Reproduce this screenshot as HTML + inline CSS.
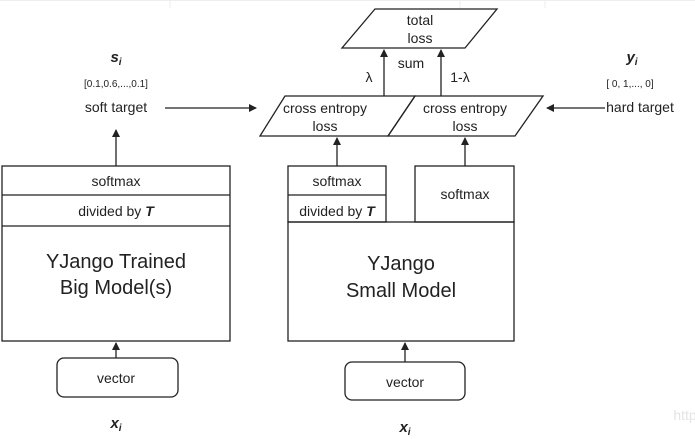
<!DOCTYPE html>
<html><head><style>body{margin:0;background:#fff}svg{display:block}</style></head><body>
<svg width="695" height="439" viewBox="0 0 695 439" xmlns="http://www.w3.org/2000/svg" font-family="Liberation Sans, sans-serif" fill="none" stroke="#222" stroke-width="1.3">
<defs><marker id="a" markerWidth="8" markerHeight="8" refX="7" refY="4" orient="auto" markerUnits="userSpaceOnUse"><path d="M0,0L8,4L0,8z" fill="#222" stroke="none"/></marker></defs>
<g stroke="#eee" stroke-width="1"><line x1="170" y1="0" x2="170" y2="8"/><line x1="460" y1="0" x2="460" y2="8"/><line x1="545" y1="0" x2="545" y2="8"/><line x1="0" y1="0.5" x2="695" y2="0.5"/></g>
<!-- left big model -->
<rect x="2" y="166" width="228" height="175"/>
<line x1="2" y1="195" x2="230" y2="195"/><line x1="2" y1="226" x2="230" y2="226"/>
<line x1="116" y1="166" x2="116" y2="130" marker-end="url(#a)"/>
<rect x="57" y="358" width="121" height="39" rx="7"/>
<line x1="116" y1="358" x2="116" y2="343" marker-end="url(#a)"/>
<!-- right small model -->
<rect x="288" y="222" width="226" height="119"/>
<rect x="288" y="166" width="98" height="56"/><line x1="288" y1="195" x2="386" y2="195"/>
<rect x="415" y="166" width="99" height="56"/>
<rect x="345" y="362" width="120" height="38" rx="7"/>
<line x1="405" y1="362" x2="405" y2="343" marker-end="url(#a)"/>
<line x1="337" y1="166" x2="337" y2="138" marker-end="url(#a)"/>
<line x1="465" y1="166" x2="465" y2="138" marker-end="url(#a)"/>
<!-- CE parallelograms -->
<path d="M285,96L415,96L388,136L260,136Z"/>
<path d="M415,96L543,96L515,136L388,136Z"/>
<path d="M375,9L497,9L465,48L342,48Z"/>
<line x1="384" y1="96" x2="384" y2="50" marker-end="url(#a)"/>
<line x1="441" y1="96" x2="441" y2="50" marker-end="url(#a)"/>
<line x1="165" y1="108" x2="256" y2="108" marker-end="url(#a)"/>
<line x1="605" y1="108" x2="547" y2="108" marker-end="url(#a)"/>
<g fill="#222" stroke="none" text-anchor="middle" font-size="14">
<text x="116" y="186">softmax</text>
<text x="116" y="216">divided by <tspan font-weight="bold" font-style="italic">T</tspan></text>
<text x="116" y="268" font-size="20">YJango Trained</text>
<text x="116" y="294" font-size="20">Big Model(s)</text>
<text x="116" y="383">vector</text>
<text x="116" y="428" font-size="15" font-weight="bold" font-style="italic">x<tspan font-size="10" dy="3">i</tspan></text>
<text x="116" y="62" font-size="15" font-weight="bold" font-style="italic">s<tspan font-size="10" dy="3">i</tspan></text>
<text x="116" y="87" font-size="10">[0.1,0.6,...,0.1]</text>
<text x="116" y="112">soft target</text>
<text x="337" y="186">softmax</text>
<text x="337" y="216">divided by <tspan font-weight="bold" font-style="italic">T</tspan></text>
<text x="465" y="199">softmax</text>
<text x="401" y="270" font-size="20">YJango</text>
<text x="401" y="297" font-size="20">Small Model</text>
<text x="405" y="387">vector</text>
<text x="405" y="432" font-size="15" font-weight="bold" font-style="italic">x<tspan font-size="10" dy="3">i</tspan></text>
<text x="325" y="113">cross entropy</text><text x="325" y="131">loss</text>
<text x="465" y="113">cross entropy</text><text x="465" y="131">loss</text>
<text x="420" y="25">total</text><text x="420" y="43">loss</text>
<text x="411" y="68">sum</text>
<text x="369" y="82">λ</text>
<text x="460" y="82">1-λ</text>
<text x="632" y="62" font-size="15" font-weight="bold" font-style="italic">y<tspan font-size="10" dy="3">i</tspan></text>
<text x="630" y="87" font-size="10">[ 0,  1,...,  0]</text>
<text x="640" y="112">hard target</text>
<text x="685" y="420" fill="#e4e4e4" font-size="14">http</text>
</g>
</svg>
</body></html>
